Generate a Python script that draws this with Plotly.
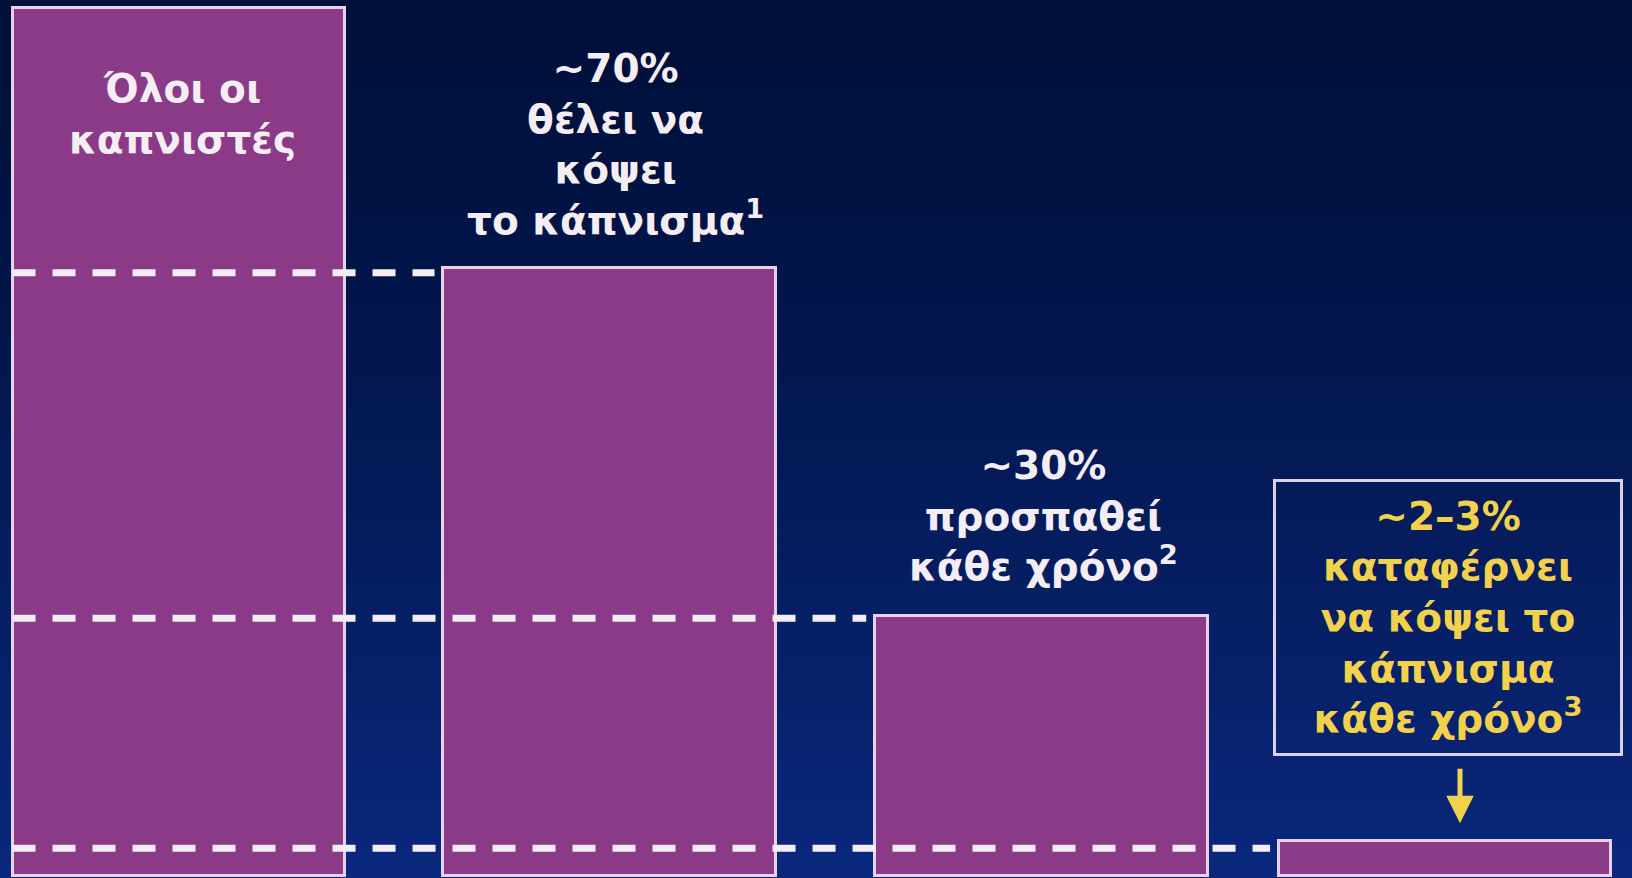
import numpy as np
import plotly.graph_objects as go

# ---- data ----
categories = ["Όλοι οι καπνιστές", "Θέλει να κόψει", "Προσπαθεί κάθε χρόνο", "Καταφέρνει κάθε χρόνο"]
values = [100, 70, 30, 4]           # bar heights as drawn (% of smokers)
guide_levels = [69.5, 29.7, 3.2]    # dashed reference lines
labels = [
    "Όλοι οι<br>καπνιστές",
    "~70%<br>θέλει να<br>κόψει<br>το κάπνισμα<sup>1</sup>",
    "~30%<br>προσπαθεί<br>κάθε χρόνο<sup>2</sup>",
    "~2–3%<br>καταφέρνει<br>να κόψει το<br>κάπνισμα<br>κάθε χρόνο<sup>3</sup>",
]

W, H = 1632, 878
BAR_COLOR = "#8B3A88"
OUTLINE = "#E8D2E8"
WHITE = "#F4EEF4"
YELLOW = "#F2D24C"
FONT = "DejaVu Sans"

x_pos = np.arange(len(categories), dtype=float)
bar_w = 0.789
shift = [0.0, 0.020, 0.043, 0.0]
centers = x_pos + np.array(shift)

fig = go.Figure()

# background gradient (style)
top = np.array([0, 16, 58])
bot = np.array([10, 40, 125])
nb = 60
for i in range(nb):
    t = i / (nb - 1)
    c = top + (bot - top) * (t ** 1.3)
    fig.add_shape(type="rect", xref="paper", yref="paper",
                  x0=0, x1=1, y0=1 - (i + 1) / nb, y1=1 - i / nb + 0.001,
                  fillcolor="rgb(%d,%d,%d)" % tuple(c.astype(int)),
                  line=dict(width=0), layer="below")

fig.add_trace(go.Bar(
    x=x_pos, y=values, width=bar_w,
    offset=[-bar_w / 2 + s for s in shift],
    marker=dict(color=BAR_COLOR, line=dict(color=OUTLINE, width=3)),
    hoverinfo="skip", customdata=categories,
))

# dashed guide lines from the first bar's left edge to the next bar's left edge
left0 = x_pos[0] - bar_w / 2
for i, lvl in enumerate(guide_levels):
    x_end = centers[i + 1] - bar_w / 2 - 0.02
    fig.add_trace(go.Scatter(
        x=[left0, x_end], y=[lvl, lvl], mode="lines",
        line=dict(color=WHITE, width=7, dash="23px,17px"),
        hoverinfo="skip", showlegend=False,
    ))

font_w = dict(family=FONT, size=39, color=WHITE)
font_y = dict(family=FONT, size=39, color=YELLOW)


def bold(s):
    return "<br>".join("<b>%s</b>" % part for part in s.split("<br>"))


# bar 1 label inside bar
fig.add_annotation(x=centers[0], y=values[0], text=bold(labels[0]), showarrow=False,
                   yanchor="middle", yshift=-106, xshift=3, font=font_w, align="center")
# bar 2 and 3 labels above bars
fig.add_annotation(x=centers[1], y=values[1], text=bold(labels[1]), showarrow=False,
                   yanchor="bottom", yshift=23, xshift=6, font=font_w, align="center")
fig.add_annotation(x=centers[2], y=values[2], text=bold(labels[2]), showarrow=False,
                   yanchor="bottom", yshift=25, xshift=2, font=font_w, align="center")
# boxed label for bar 4
fig.add_annotation(x=centers[3], y=values[3], text=bold(labels[3]), showarrow=False,
                   yanchor="middle", yshift=224, xshift=3, font=font_y, align="center",
                   width=344, height=271, bordercolor="#D9D2E4", borderwidth=3,
                   borderpad=0)
# arrow pointing to bar 4
fig.add_annotation(x=centers[3], y=values[3], text="", showarrow=True,
                   ax=0, ay=-74, standoff=18, xshift=15, font=dict(size=12),
                   arrowcolor=YELLOW, arrowwidth=5, arrowhead=2, arrowsize=1.1)

px_per_unit = 868 / 100.0
y_min = -2 / px_per_unit
y_max = 100 + 8 / px_per_unit
x_min = -179 / 422
x_max = (W - 179) / 422

fig.update_layout(
    width=W, height=H,
    margin=dict(l=0, r=0, t=0, b=0),
    paper_bgcolor="#001040", plot_bgcolor="rgba(0,0,0,0)",
    showlegend=False, bargap=0,
    font=dict(family=FONT, size=39),
    xaxis=dict(range=[x_min, x_max], visible=False, fixedrange=True),
    yaxis=dict(range=[y_min, y_max], visible=False, fixedrange=True),
)

fig.write_html(
    "out.html",
    config={"displayModeBar": False},
    post_script="document.body.style.margin='0';document.body.style.background='#001040';document.body.style.overflow='hidden';",
)
